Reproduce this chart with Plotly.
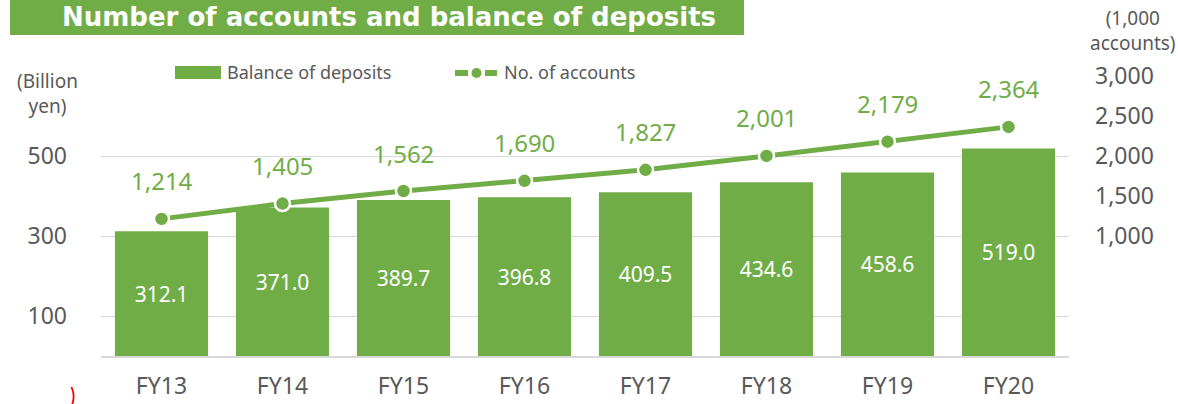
import plotly.graph_objects as go

# ---- data ----
categories = ["FY13", "FY14", "FY15", "FY16", "FY17", "FY18", "FY19", "FY20"]
balance = [312.1, 371.0, 389.7, 396.8, 409.5, 434.6, 458.6, 519.0]
accounts = [1214, 1405, 1562, 1690, 1827, 2001, 2179, 2364]
left_ticks = [100, 300, 500]
right_ticks = [1000, 1500, 2000, 2500, 3000]
right_tick_text = ["1,000", "1,500", "2,000", "2,500", "3,000"]

GREEN = "#70AD47"
GRAY = "#595959"
GRID = "#D9D9D9"
FONT = "Noto Sans"

W, H = 1178, 404
ML, MR, MT, MB = 101, 109, 60, 48
PW, PH = W - ML - MR, H - MT - MB


def px(x):
    return (x - ML) / PW


def py(y):
    return (H - MB - y) / PH


fig = go.Figure()
fig.add_trace(go.Bar(
    x=categories, y=balance, marker=dict(color=GREEN, line=dict(width=0)),
    text=[f"{v:.1f}" for v in balance], textposition="inside",
    insidetextanchor="middle", textangle=0, constraintext="none",
    textfont=dict(color="white", size=21, family=FONT),
    showlegend=False, hoverinfo="skip", name="Balance of deposits",
))
fig.add_trace(go.Scatter(
    x=categories, y=accounts, yaxis="y2", mode="lines+markers",
    line=dict(color=GREEN, width=5),
    marker=dict(size=15, color=GREEN, line=dict(color="white", width=2.5)),
    showlegend=False, hoverinfo="skip", name="No. of accounts",
))

annotations = []
for c, v in zip(categories, accounts):
    annotations.append(dict(
        x=c, y=v, xref="x", yref="y2", text=f"{v:,}", showarrow=False,
        yshift=38, yanchor="middle", font=dict(color=GREEN, size=24, family=FONT),
    ))

# title
annotations.append(dict(
    x=px(60), y=py(17), xref="paper", yref="paper", xanchor="left", yanchor="middle",
    text="<b>Number of accounts and balance of deposits</b>", showarrow=False,
    font=dict(color="white", size=26, family="DejaVu Sans"),
))
# unit labels
annotations.append(dict(
    x=px(47), y=py(93), xref="paper", yref="paper", xanchor="center", yanchor="middle",
    text="(Billion<br>yen)", showarrow=False, align="center",
    font=dict(color=GRAY, size=19, family=FONT),
))
annotations.append(dict(
    x=px(1133), y=py(31), xref="paper", yref="paper", xanchor="center", yanchor="middle",
    text="(1,000<br>accounts)", showarrow=False, align="center",
    font=dict(color=GRAY, size=19, family=FONT),
))
# legend texts
annotations.append(dict(
    x=px(225), y=py(72), xref="paper", yref="paper", xanchor="left", yanchor="middle",
    text="Balance of deposits", showarrow=False, font=dict(color=GRAY, size=18, family=FONT),
))
annotations.append(dict(
    x=px(502), y=py(72), xref="paper", yref="paper", xanchor="left", yanchor="middle",
    text="No. of accounts", showarrow=False, font=dict(color=GRAY, size=18, family=FONT),
))

shapes = [
    # title bar
    dict(type="rect", xref="paper", yref="paper", x0=px(10), x1=px(744), y0=py(0), y1=py(35),
         fillcolor=GREEN, line=dict(width=0), layer="below"),
    # legend bar symbol
    dict(type="rect", xref="paper", yref="paper", x0=px(175), x1=px(221), y0=py(66), y1=py(79),
         fillcolor=GREEN, line=dict(width=0)),
    # legend line symbol
    dict(type="line", xref="paper", yref="paper", x0=px(455), x1=px(468), y0=py(73), y1=py(73),
         line=dict(color=GREEN, width=6)),
    dict(type="line", xref="paper", yref="paper", x0=px(485), x1=px(497), y0=py(73), y1=py(73),
         line=dict(color=GREEN, width=6)),
    dict(type="circle", xref="paper", yref="paper", x0=px(471.5), x1=px(481.5), y0=py(68), y1=py(78),
         fillcolor=GREEN, line=dict(width=0)),
    # small red mark
    dict(type="path", xref="paper", yref="paper",
         path=f"M {px(71.5)},{py(387)} Q {px(75.5)},{py(396)} {px(72)},{py(405)}",
         line=dict(color="red", width=1.8)),
]

fig.update_layout(
    width=W, height=H, margin=dict(l=ML, r=MR, t=MT, b=MB, pad=0, autoexpand=False),
    paper_bgcolor="white", plot_bgcolor="white",
    bargap=0.23, showlegend=False,
    font=dict(family=FONT, color=GRAY),
    xaxis=dict(
        type="category", showgrid=False, showline=True, linecolor=GRID, linewidth=1.5,
        ticks="", tickfont=dict(size=23, color=GRAY, family=FONT), ticklabelstandoff=9,
        zeroline=False, fixedrange=True, automargin=False,
    ),
    yaxis=dict(
        range=[0, 740], tickmode="array", tickvals=left_ticks,
        ticktext=[str(t) for t in left_ticks], showgrid=True, gridcolor=GRID, gridwidth=1.2,
        zeroline=False, showline=False, ticks="", automargin=False,
        tickfont=dict(size=23, color=GRAY, family=FONT), ticklabelstandoff=33,
    ),
    yaxis2=dict(
        range=[-500, 3200], overlaying="y", side="right", tickmode="array",
        tickvals=right_ticks, ticktext=right_tick_text, showgrid=False, zeroline=False,
        showline=False, ticks="", tickfont=dict(size=23, color=GRAY, family=FONT),
        ticklabelstandoff=25, automargin=False,
    ),
    annotations=annotations, shapes=shapes,
)

fig.write_html(
    "out.html",
    config={"displayModeBar": False},
    post_script="document.body.style.margin='0';document.body.style.padding='0';",
)
